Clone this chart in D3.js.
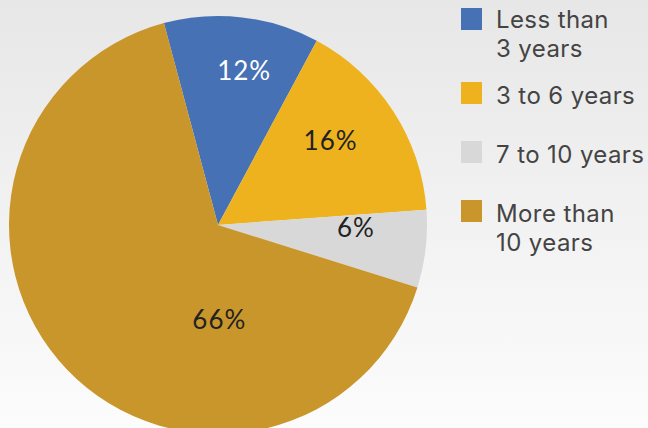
<!DOCTYPE html>
<html>
<head>
<meta charset="utf-8">
<script src="https://cdn.jsdelivr.net/npm/d3@7"></script>
<style>
  html, body { margin: 0; padding: 0; }
  body { width: 648px; height: 428px; overflow: hidden; }
</style>
</head>
<body>
<svg id="chart" width="648" height="428"></svg>
<script>
// Tenure distribution (share of respondents, %)
const categories = ["Less than 3 years", "3 to 6 years", "7 to 10 years", "More than 10 years"];
const shares = [12, 16, 6, 66];
const legendLines = [["Less than", "3 years"], ["3 to 6 years"], ["7 to 10 years"], ["More than", "10 years"]];

const colors = ["#4671b5", "#edb21e", "#d8d8d8", "#c9962b"];
const labelColors = ["#ffffff", "#222222", "#222222", "#222222"];

const width = 648, height = 428;
const cx = 218, cy = 225, radius = 209;
const deg = Math.PI / 180;

// label placement per slice: radial distance and angular nudge from the slice middle
const labelRadius = [157, 141, 138, 95];
const labelNudge = [3, -4, -5.6, -47];

// legend layout: top of each swatch and line spacing for wrapped entries
const legendTop = [6, 82, 141, 200];
const legendLineGap = 29;

const svg = d3.select("#chart");

const defs = svg.append("defs");
const grad = defs.append("linearGradient")
  .attr("id", "bg").attr("x1", 0).attr("y1", 0).attr("x2", 0).attr("y2", 1);
grad.append("stop").attr("offset", "0%").attr("stop-color", "#e7e7e7");
grad.append("stop").attr("offset", "100%").attr("stop-color", "#fcfcfc");

svg.append("rect").attr("width", width).attr("height", height).attr("fill", "url(#bg)");

const data = categories.map((c, i) => ({ category: c, value: shares[i], i }));

const start = -15 * deg;
const pie = d3.pie().value(d => d.value).sort(null)
  .startAngle(start).endAngle(start + 2 * Math.PI);
const arcs = pie(data);

const arc = d3.arc().innerRadius(0).outerRadius(radius);

const g = svg.append("g").attr("transform", `translate(${cx},${cy})`);

g.selectAll("path.slice")
  .data(arcs)
  .join("path")
  .attr("class", "slice")
  .attr("d", arc)
  .attr("fill", d => colors[d.data.i]);

g.selectAll("text.pct")
  .data(arcs)
  .join("text")
  .attr("class", "pct")
  .attr("transform", d => {
    const a = (d.startAngle + d.endAngle) / 2 + labelNudge[d.data.i] * deg;
    const r = labelRadius[d.data.i];
    return `translate(${r * Math.sin(a)},${-r * Math.cos(a)})`;
  })
  .attr("text-anchor", "middle")
  .attr("dy", "0.36em")
  .attr("font-family", "Lato, 'Noto Sans', sans-serif")
  .attr("font-size", 26)
  .attr("letter-spacing", 1)
  .attr("fill", d => labelColors[d.data.i])
  .text(d => d.data.value + "%");

// legend
const legend = svg.append("g").attr("transform", "translate(461,0)");
const items = legend.selectAll("g.item")
  .data(data)
  .join("g")
  .attr("class", "item")
  .attr("transform", d => `translate(0,${legendTop[d.i]})`);

items.append("rect")
  .attr("y", d => d.i === 0 ? 2 : 0)
  .attr("width", 21).attr("height", 22)
  .attr("fill", d => colors[d.i]);

items.each(function (d) {
  const t = d3.select(this).append("text")
    .attr("x", 35)
    .attr("y", 22)
    .attr("font-family", "Inter, Roboto, sans-serif")
    .attr("font-size", 24)
    .attr("letter-spacing", 0.4)
    .attr("fill", "#444444");
  legendLines[d.i].forEach((line, k) => {
    t.append("tspan")
      .attr("x", 35)
      .attr("dy", k === 0 ? 0 : legendLineGap)
      .text(line);
  });
});
</script>
</body>
</html>
